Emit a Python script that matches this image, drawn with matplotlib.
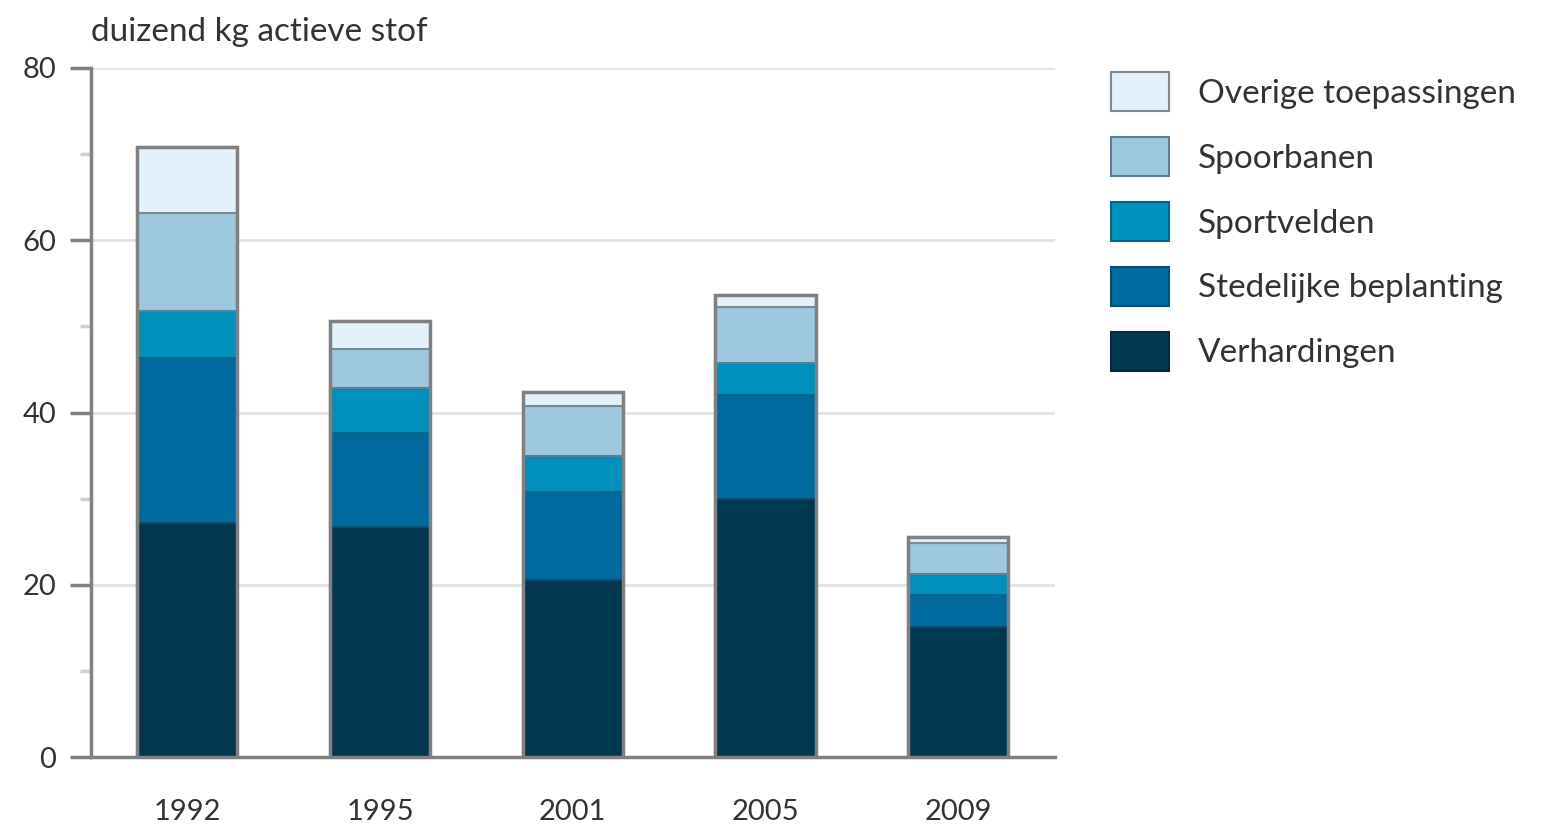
import numpy as np
import matplotlib.pyplot as plt
from matplotlib.patches import Rectangle

years = ["1992", "1995", "2001", "2005", "2009"]
series = ["Verhardingen", "Stedelijke beplanting", "Sportvelden", "Spoorbanen", "Overige toepassingen"]
verhardingen = [27.2, 26.7, 20.6, 29.9, 15.1]
stedelijk = [19.1, 10.9, 10.2, 12.1, 3.7]
sportvelden = [5.5, 5.2, 4.1, 3.8, 2.4]
spoorbanen = [11.4, 4.6, 5.9, 6.4, 3.6]
overige = [7.6, 3.2, 1.6, 1.5, 0.7]
colors = ["#01374f", "#006a9e", "#0090bb", "#9dc8df", "#e3f2fa"]
edges = ["#022a3c", "#034e72", "#03688a", "#5e7f93", "#7f8a90"]

plt.rcParams['font.family'] = ['Lato', 'DejaVu Sans']
text_col = "#333333"

fig = plt.figure(figsize=(15.42, 8.26), dpi=100)
ax = fig.add_axes([0.059, 0.0835, 0.625, 0.8342])

x = np.arange(len(years))
width = 0.52
bottom = np.zeros(len(years))
handles = []
for vals, col, ec, name in zip([verhardingen, stedelijk, sportvelden, spoorbanen, overige],
                               colors, edges, series):
    b = ax.bar(x, vals, width, bottom=bottom, color=col, edgecolor=ec, linewidth=1.5,
               label=name, zorder=3)
    handles.append(b)
    bottom += np.array(vals)

# grey outline around each stack
for xi, tot in zip(x, bottom):
    ax.add_patch(Rectangle((xi - width / 2, 0), width, tot, fill=False,
                           edgecolor="#808080", linewidth=2.5, zorder=4))

ax.set_xlim(-0.5, 4.5)
ax.set_ylim(0, 80)
ax.set_yticks([0, 20, 40, 60, 80])
ax.set_yticks([10, 30, 50, 70], minor=True)
ax.set_xticks(x)
ax.set_xticklabels(years)
ax.grid(axis="y", color="#e2e2e2", linewidth=2, zorder=0)
for s in ["top", "right"]:
    ax.spines[s].set_visible(False)
ax.spines["left"].set_color("#808080")
ax.spines["left"].set_linewidth(2.5)
ax.spines["bottom"].set_color("#808080")
ax.spines["bottom"].set_linewidth(2.5)
ax.tick_params(axis="y", which="major", length=15, width=2.5, color="#808080",
               labelsize=21, labelcolor=text_col, pad=10)
ax.tick_params(axis="y", which="minor", length=8, width=2.5, color="#d0d0d0")
ax.tick_params(axis="x", length=0, labelsize=21, labelcolor=text_col, pad=30)

ax.text(0.0, 1.03, "duizend kg actieve stof", transform=ax.transAxes,
        fontsize=24, color=text_col, ha="left", va="bottom")

leg = fig.legend(handles[::-1], series[::-1], loc="upper left",
                 bbox_to_anchor=(0.7205, 0.913), frameon=False, fontsize=24,
                 handlelength=1.75, handleheight=1.45, handletextpad=0.85,
                 labelspacing=0.76, borderaxespad=0, borderpad=0)
for t in leg.get_texts():
    t.set_color(text_col)

fig.savefig("out.png", dpi=100)
